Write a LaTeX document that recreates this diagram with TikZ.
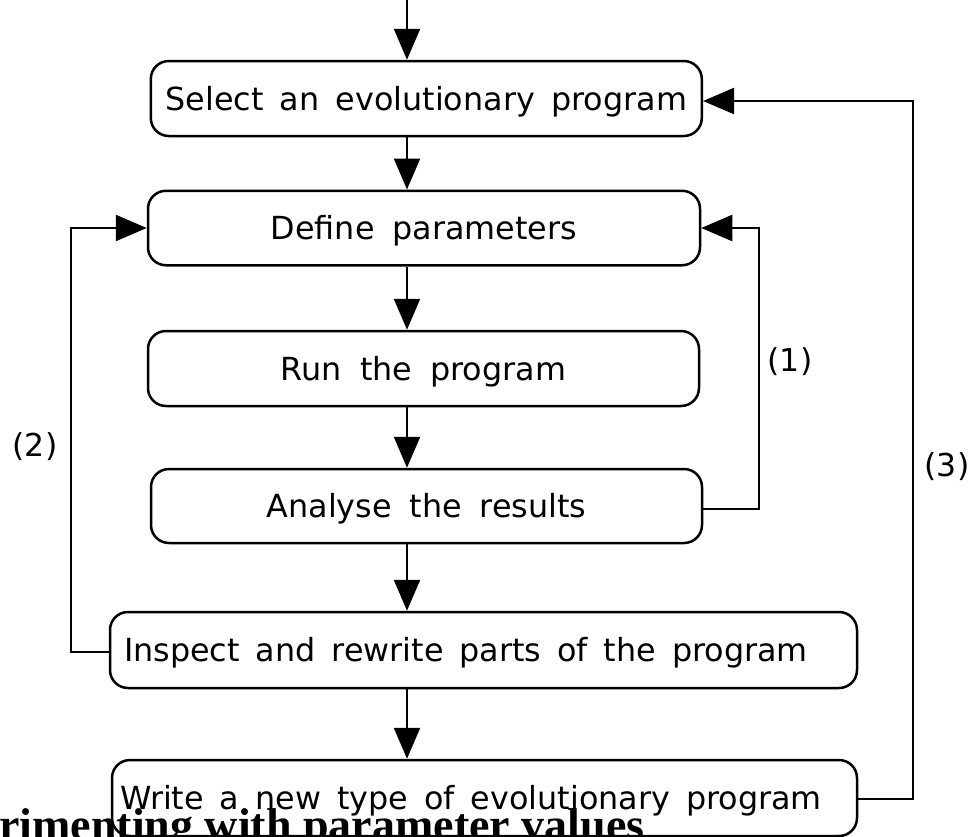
\documentclass[tikz,border=0pt]{standalone}
\usepackage{fontspec}
\setmainfont{DejaVu Sans}
\newfontfamily\headfont{Liberation Serif}
\usetikzlibrary{arrows.meta}
\newcommand{\wsp}{\spaceskip=16pt plus 1pt minus 1pt\relax}
\tikzset{
  box/.style={draw, line width=2.5pt, rounded corners=18pt, inner ysep=0pt,
    text height=23pt, text depth=0pt,
    font=\fontsize{31.8}{36}\selectfont, execute at begin node=\wsp},
  cbox/.style={box, inner xsep=0pt, align=center},
  lbox/.style={box, align=left},
  conn/.style={line width=2.3pt, -{Triangle[length=31pt,width=26pt]}},
  lab/.style={font=\fontsize{31.5}{36}\selectfont, inner sep=0pt}
}
\begin{document}
\begin{tikzpicture}[x=1pt,y=1pt]
\useasboundingbox (0,0) rectangle (975,-836);
\coordinate (ax) at (407,0);
\coordinate (top) at (407,0);
\node[cbox, text width=551pt, minimum height=75pt] (b1) at (426.3,-98.5) {Select an evolutionary program};
\node[cbox, text width=552pt, minimum height=74.5pt] (b2) at (424,-228) {Define parameters};
\node[cbox, text width=551pt, minimum height=75pt] (b3) at (423.5,-368.5) {Run the program};
\node[cbox, text width=551pt, minimum height=74pt] (b4) at (426.5,-506) {Analyse the results};
\node[lbox, inner xsep=14pt, text width=719pt, minimum height=76pt] (b5) at (483.5,-650) {Inspect and rewrite parts of the program};
\node[lbox, inner xsep=8pt, text width=729pt, minimum height=76pt] (b6) at (484.5,-798) {Write a new type of evolutionary program};
% main flow
\draw[conn] (top) -- (b1.north -| ax);
\draw[conn] (b1.south -| ax) -- (b2.north -| ax);
\draw[conn] (b2.south -| ax) -- (b3.north -| ax);
\draw[conn] (b3.south -| ax) -- (b4.north -| ax);
\draw[conn] (b4.south -| ax) -- (b5.north -| ax);
\draw[conn] (b5.south -| ax) -- (b6.north -| ax);
% loops
\coordinate (l1a) at (759,-509);
\coordinate (l1b) at (759,-228);
\draw[conn] (b4.east |- l1a) -- (l1a) -- (l1b) -- (b2.east);
\coordinate (l2a) at (71,-652);
\coordinate (l2b) at (71,-228);
\draw[conn] (b5.west |- l2a) -- (l2a) -- (l2b) -- (b2.west);
\coordinate (l3a) at (913,-799);
\coordinate (l3b) at (913,-101);
\draw[conn] (b6.east |- l3a) -- (l3a) -- (l3b) -- (b1.east |- l3b);
% labels
\node[lab] (n1) at (790,-362) {(1)};
\node[lab] (n2) at (35,-447) {(2)};
\node[lab] (n3) at (947,-467) {(3)};
% cut-off heading
\begin{scope}
\clip (0,0) rectangle (975,-836);
\node[anchor=base west, inner sep=0pt, font=\headfont\bfseries\fontsize{46}{50}\selectfont] (head) at (-1,-840) {rimenting with parameter values};
\end{scope}
\end{tikzpicture}
\end{document}
